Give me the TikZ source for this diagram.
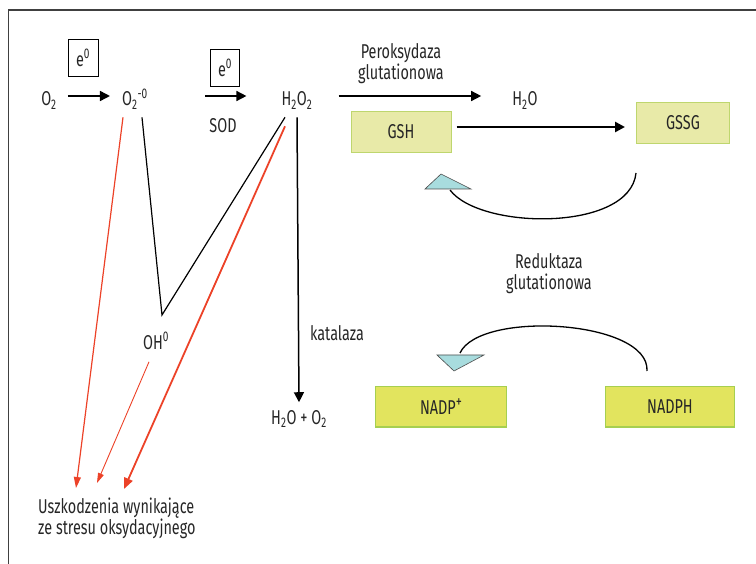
\documentclass[tikz,border=0pt]{standalone}
\usepackage{fontspec}
\setmainfont{Fira Sans}[FakeStretch=0.72]
\usetikzlibrary{arrows.meta}
\definecolor{dmgred}{RGB}{236,66,40}
\definecolor{gshfill}{RGB}{232,234,168}
\definecolor{gshline}{RGB}{190,214,110}
\definecolor{nadfill}{RGB}{226,228,94}
\definecolor{nadline}{RGB}{166,207,80}
\definecolor{tricyan}{RGB}{168,220,222}
\begin{document}
\begin{tikzpicture}[x=1pt,y=-1pt,font=\fontsize{20}{21}\selectfont,
    every node/.style={inner sep=0pt,text=black!85},
    arr/.style={-{Triangle[length=10pt,width=10pt]},line width=1.5pt},
    redarr/.style={draw=dmgred,line width=1.2pt,-{Triangle[length=11pt,width=7pt]}},
    ebox/.style={draw,line width=1pt,minimum width=30pt,minimum height=37pt},
    gbox/.style={draw=gshline,fill=gshfill,line width=1pt,minimum width=100pt,minimum height=41pt},
    nbox/.style={draw=nadline,fill=nadfill,line width=1pt,minimum width=131pt,minimum height=40pt},
    tri/.style={draw=black!70,fill=tricyan,line width=0.6pt},
    cycline/.style={line width=1.3pt}]
    \useasboundingbox (0,0) rectangle (756,564);
    \draw[black!75,line width=1.2pt] (8.5,564) -- (8.5,10) -- (756,10);
    % top row
    \node[anchor=base] (O2) at (49,106) {O\textsubscript{2}};
    \node[anchor=base] (O2m) at (135,106) {O\textsubscript{2}\textsuperscript{-0}};
    \node[anchor=base] (H2O2) at (297,106) {H\textsubscript{2}O\textsubscript{2}};
    \node[anchor=base] (H2O) at (525,106) {H\textsubscript{2}O};
    \node[ebox] (e1) at (83,58) {e\textsuperscript{0}};
    \node[ebox,minimum width=29pt] (e2) at (225,68) {e\textsuperscript{0}};
    \node (SOD) at (223,126) {SOD};
    \node[align=center] (perox) at (401,64) {Peroksydaza\\glutationowa};
    \draw[arr] ([xshift=11pt,yshift=10pt]O2.base east) -- ([xshift=-12pt,yshift=10pt]O2m.base west);
    \draw[arr] ([xshift=57pt,yshift=10pt]O2m.base east) -- ([xshift=-35pt,yshift=10pt]H2O2.base west);
    \draw[arr] ([xshift=26pt,yshift=10pt]H2O2.base east) -- ([xshift=-31pt,yshift=10pt]H2O.base west);
    % glutathione cycle
    \node[gbox] (GSH) at (401,132) {GSH};
    \node[gbox,minimum width=93pt] (GSSG) at (683,123) {GSSG};
    \draw[arr,line width=2.6pt] ([xshift=5pt,yshift=5pt]GSH.east) -- ([xshift=-11pt,yshift=-4pt]GSSG.west);
    \filldraw[tri] (425,189) -- (441,174) -- (471,189) -- cycle;
    \coordinate (c1) at (636,173);
    \coordinate (t1) at (450,190);
    \draw[cycline] (c1) .. controls (630,232) and (480,230) .. (t1);
    \node[align=center] (reduk) at (549,274) {Reduktaza\\glutationowa};
    \node[nbox] (NADP) at (441,407) {NADP\raisebox{7pt}{\fontsize{17}{17}\selectfont+}};
    \node[nbox,minimum width=129pt] (NADPH) at (670,407) {NADPH};
    \filldraw[tri] (437,355) -- (484,355) -- (454,371) -- cycle;
    \coordinate (c2) at (647,371);
    \coordinate (t2) at (460,353);
    \draw[cycline] (c2) .. controls (650,320) and (480,310) .. (t2);
    % radicals and catalase
    \node (OH) at (156,341) {OH\textsuperscript{0}};
    \node (kat) at (337,333) {katalaza};
    \node (prod) at (299,419) {H\textsubscript{2}O + O\textsubscript{2}};
    \draw[arr] ([yshift=-8pt]H2O2.south) -- ([yshift=8pt]prod.north);
    \coordinate (v) at (162,315);
    \draw[line width=1.2pt] ([xshift=7pt,yshift=-8pt]O2m.south) -- (v) -- ([xshift=-12pt,yshift=-8pt]H2O2.south);
    \node[align=left,anchor=north west] (dmg) at (38,498) {Uszkodzenia wynikające\\ze stresu oksydacyjnego};
    \draw[redarr] ([xshift=-12pt,yshift=-8pt]O2m.south) -- ([xshift=38pt,yshift=10pt]dmg.north west);
    \draw[redarr,line width=0.9pt,-{Triangle[length=10pt,width=6pt]}] ([xshift=-7pt,yshift=-12pt]OH.south) -- ([xshift=59pt,yshift=15pt]dmg.north west);
    \draw[redarr,line width=1.8pt,-{Triangle[length=11pt,width=9pt]}] ([xshift=-12pt,yshift=-17pt]H2O2.south) -- ([xshift=86pt,yshift=9pt]dmg.north west);
\end{tikzpicture}
\end{document}
